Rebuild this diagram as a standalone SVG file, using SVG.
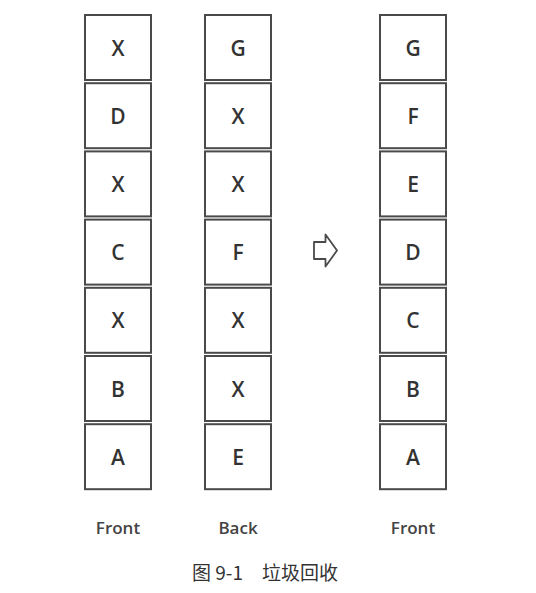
<svg xmlns="http://www.w3.org/2000/svg" width="536" height="593" viewBox="0 0 536 593">
<style>
.box rect{fill:#fff;stroke:#4a4a4a;stroke-width:2}
.box text{font-family:"Open Sans","Noto Sans","DejaVu Sans",sans-serif;font-size:21px;font-weight:600;fill:#333;text-anchor:middle;dominant-baseline:central}
.lbl{font-family:"Open Sans","Noto Sans",sans-serif;font-size:17px;font-weight:600;fill:#444;text-anchor:middle}
.cap{font-family:"Noto Sans CJK SC","Noto Sans",sans-serif;font-size:19px;fill:#333;text-anchor:middle}
</style>
<rect width="536" height="593" fill="#fff"/>
<g id="col-front1">
<g id="f1-0" class="box"><rect x="85" y="15" width="66" height="65"/><text x="118" y="47.5">X</text></g>
<g id="f1-1" class="box"><rect x="85" y="83.2" width="66" height="65"/><text x="118" y="115.7">D</text></g>
<g id="f1-2" class="box"><rect x="85" y="151.4" width="66" height="65"/><text x="118" y="183.9">X</text></g>
<g id="f1-3" class="box"><rect x="85" y="219.6" width="66" height="65"/><text x="118" y="252.1">C</text></g>
<g id="f1-4" class="box"><rect x="85" y="287.8" width="66" height="65"/><text x="118" y="320.3">X</text></g>
<g id="f1-5" class="box"><rect x="85" y="356" width="66" height="65"/><text x="118" y="388.5">B</text></g>
<g id="f1-6" class="box"><rect x="85" y="424.2" width="66" height="65"/><text x="118" y="456.7">A</text></g>
</g>
<g id="col-back">
<g id="b-0" class="box"><rect x="205" y="15" width="66" height="65"/><text x="238" y="47.5">G</text></g>
<g id="b-1" class="box"><rect x="205" y="83.2" width="66" height="65"/><text x="238" y="115.7">X</text></g>
<g id="b-2" class="box"><rect x="205" y="151.4" width="66" height="65"/><text x="238" y="183.9">X</text></g>
<g id="b-3" class="box"><rect x="205" y="219.6" width="66" height="65"/><text x="238" y="252.1">F</text></g>
<g id="b-4" class="box"><rect x="205" y="287.8" width="66" height="65"/><text x="238" y="320.3">X</text></g>
<g id="b-5" class="box"><rect x="205" y="356" width="66" height="65"/><text x="238" y="388.5">X</text></g>
<g id="b-6" class="box"><rect x="205" y="424.2" width="66" height="65"/><text x="238" y="456.7">E</text></g>
</g>
<g id="col-front2">
<g id="f2-0" class="box"><rect x="380" y="15" width="66" height="65"/><text x="413" y="47.5">G</text></g>
<g id="f2-1" class="box"><rect x="380" y="83.2" width="66" height="65"/><text x="413" y="115.7">F</text></g>
<g id="f2-2" class="box"><rect x="380" y="151.4" width="66" height="65"/><text x="413" y="183.9">E</text></g>
<g id="f2-3" class="box"><rect x="380" y="219.6" width="66" height="65"/><text x="413" y="252.1">D</text></g>
<g id="f2-4" class="box"><rect x="380" y="287.8" width="66" height="65"/><text x="413" y="320.3">C</text></g>
<g id="f2-5" class="box"><rect x="380" y="356" width="66" height="65"/><text x="413" y="388.5">B</text></g>
<g id="f2-6" class="box"><rect x="380" y="424.2" width="66" height="65"/><text x="413" y="456.7">A</text></g>
</g>
<g id="connectors">
<path d="M314,242 L325.5,242 L325.5,234.5 L337,250.5 L325.5,266.5 L325.5,259 L314,259 Z" fill="#fff" stroke="#4a4a4a" stroke-width="1.8" stroke-linejoin="round"/>
</g>
<g id="labels">
<text class="lbl" x="118" y="534">Front</text>
<text class="lbl" x="238" y="534">Back</text>
<text class="lbl" x="413" y="534">Front</text>
<text class="cap" x="265" y="580">图 9-1　垃圾回收</text>
</g>
</svg>
